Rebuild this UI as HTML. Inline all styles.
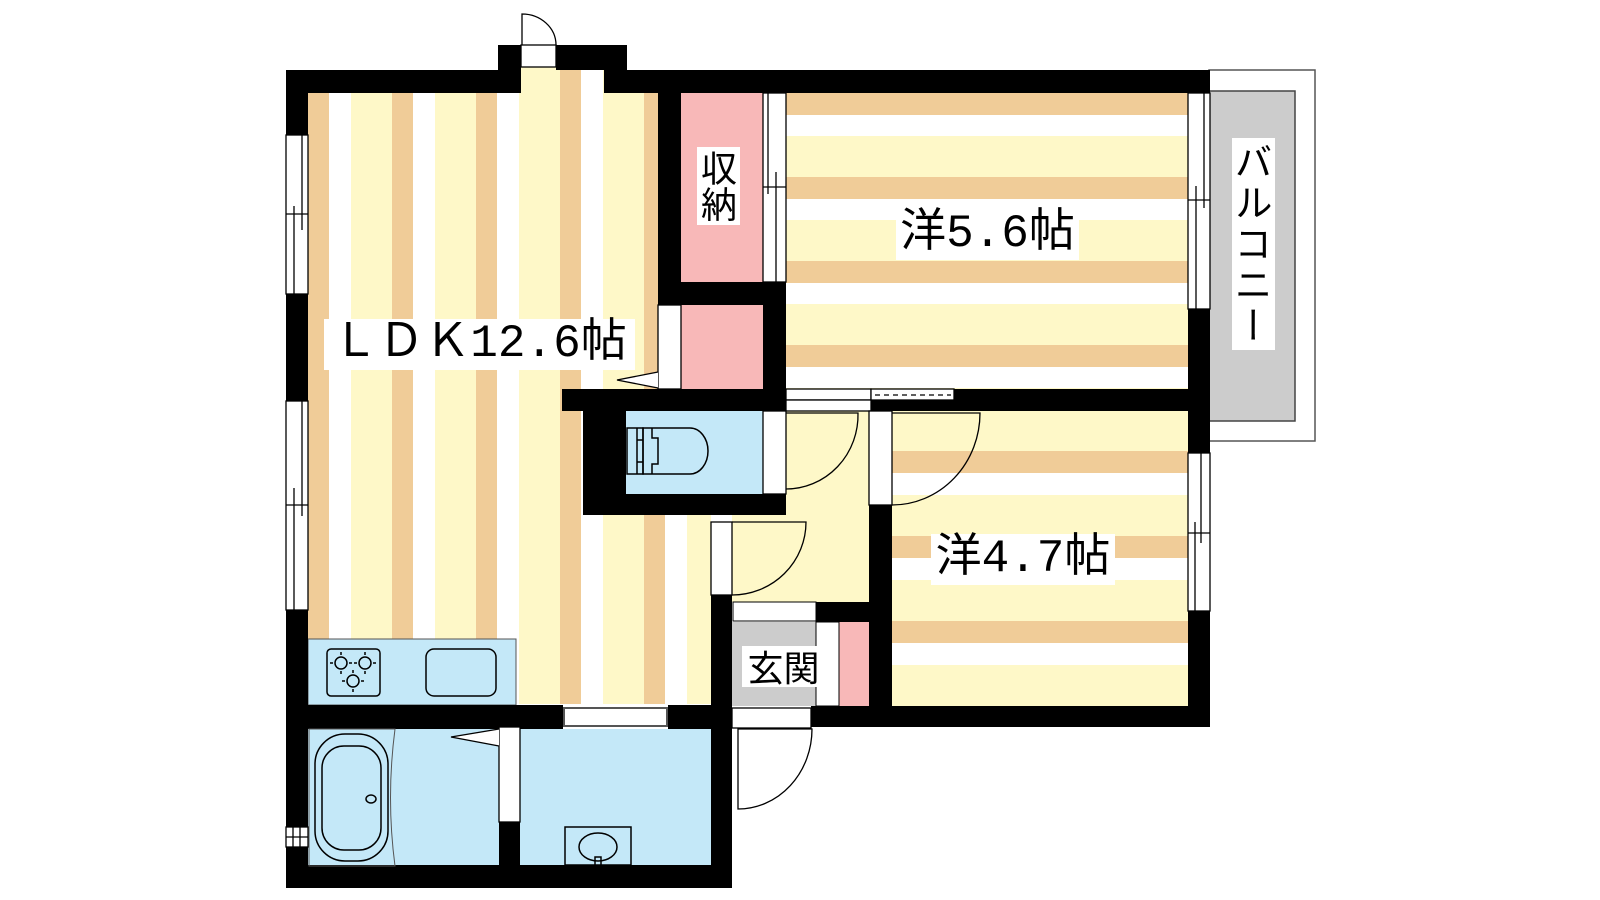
<!DOCTYPE html>
<html><head><meta charset="utf-8"><style>
html,body{margin:0;padding:0;background:#fff;}
#w{position:relative;width:1600px;height:900px;overflow:hidden;}
.lb{position:absolute;background:#fff;color:#000;font-family:"Liberation Mono","Noto Sans CJK JP",monospace;line-height:1;white-space:nowrap;text-align:center;}
.v{writing-mode:vertical-rl;font-family:"Noto Sans CJK JP",sans-serif;}
</style></head><body><div id="w">
<svg width="1600" height="900" viewBox="0 0 1600 900" xmlns="http://www.w3.org/2000/svg">
<defs>
<pattern id="pv" patternUnits="userSpaceOnUse" x="308" y="0" width="84" height="10">
<rect x="0" y="0" width="21" height="10" fill="#F0CC98"/><rect x="21" y="0" width="22" height="10" fill="#fff"/><rect x="43" y="0" width="41" height="10" fill="#FEF8C8"/></pattern>
<pattern id="ph1" patternUnits="userSpaceOnUse" x="0" y="93" width="10" height="84">
<rect x="0" y="0" width="10" height="22" fill="#F0CC98"/><rect x="0" y="22" width="10" height="21" fill="#fff"/><rect x="0" y="43" width="10" height="41" fill="#FEF8C8"/></pattern>
<pattern id="ph2" patternUnits="userSpaceOnUse" x="0" y="451" width="10" height="85">
<rect x="0" y="0" width="10" height="22" fill="#F0CC98"/><rect x="0" y="22" width="10" height="22" fill="#fff"/><rect x="0" y="44" width="10" height="41" fill="#FEF8C8"/></pattern>
</defs>
<!-- balcony -->
<rect x="1209" y="70" width="106" height="371" fill="#fff" stroke="#555" stroke-width="1.5"/>
<rect x="1209" y="91" width="86" height="330" fill="#CCCCCC" stroke="#444" stroke-width="1.5"/>
<!-- floors -->
<rect x="308" y="93" width="350" height="611" fill="url(#pv)"/>
<rect x="521" y="67" width="83" height="30" fill="url(#pv)"/>
<rect x="583" y="515" width="128" height="189" fill="url(#pv)"/>
<rect x="681" y="93" width="82" height="189" fill="#F8B8B8"/>
<rect x="681" y="305" width="82" height="84" fill="#F8B8B8"/>
<rect x="786" y="93" width="402" height="296" fill="url(#ph1)"/>
<rect x="892" y="411" width="296" height="295" fill="url(#ph2)"/>
<rect x="892" y="411" width="296" height="40" fill="#FEF8C8"/>
<rect x="786" y="411" width="83" height="191" fill="#FEF8C8"/>
<rect x="732" y="494" width="137" height="108" fill="#FEF8C8"/>
<rect x="626" y="411" width="137" height="83" fill="#C4E8F8"/>
<rect x="308" y="727" width="403" height="138" fill="#C4E8F8"/>
<rect x="732" y="622" width="84" height="84" fill="#CCCCCC"/>
<rect x="839" y="622" width="30" height="84" fill="#F8B8B8"/>
<rect x="816" y="622" width="23" height="84" fill="#fff" stroke="#000" stroke-width="1"/>
<rect x="733" y="602" width="83" height="19" fill="#fff" stroke="#000" stroke-width="1"/>
<!-- kitchen -->
<rect x="308" y="639" width="208" height="66" fill="#C4E8F8" stroke="#555" stroke-width="1"/>
<rect x="327" y="649" width="53" height="47" rx="4" fill="none" stroke="#000" stroke-width="1.5"/>
<g fill="none" stroke="#000" stroke-width="1.5"><circle cx="341" cy="663" r="6"/><circle cx="365" cy="663" r="6"/><circle cx="353" cy="681" r="6"/>
<path d="M341 655v-3M341 671v3M333 663h-3M349 663h3M365 655v-3M365 671v3M357 663h-3M373 663h3M353 673v-3M353 689v3M345 681h-3M361 681h3"/></g>
<rect x="426" y="649" width="70" height="47" rx="8" fill="none" stroke="#000" stroke-width="1.5"/>
<!-- walls -->
<g fill="#000">
<rect x="286" y="70" width="235" height="23"/>
<rect x="498" y="45" width="23" height="48"/>
<rect x="556" y="45" width="71" height="25"/>
<rect x="604" y="70" width="606" height="23"/>
<rect x="286" y="70" width="22" height="818"/>
<rect x="658" y="93" width="23" height="212"/>
<rect x="658" y="282" width="128" height="23"/>
<rect x="763" y="282" width="23" height="107"/>
<rect x="562" y="389" width="224" height="22"/>
<rect x="954" y="389" width="256" height="22"/>
<rect x="871" y="400" width="83" height="11"/>
<rect x="583" y="411" width="43" height="104"/>
<rect x="583" y="494" width="203" height="21"/>
<rect x="869" y="505" width="23" height="222"/>
<rect x="711" y="595" width="21" height="293"/>
<rect x="816" y="602" width="53" height="20"/>
<rect x="811" y="706" width="399" height="21"/>
<rect x="1188" y="70" width="22" height="657"/>
<rect x="286" y="705" width="446" height="24"/>
<rect x="286" y="865" width="446" height="23"/>
<rect x="499" y="822" width="21" height="43"/>
</g>
<!-- windows -->
<g fill="#fff" stroke="#000" stroke-width="1.3">
<rect x="286" y="135" width="22" height="159"/><path d="M302 135v95M294 206v88M286 214h22" fill="none"/>
<rect x="286" y="401" width="22" height="209"/><path d="M302 401v115M294 488v122M286 505h22" fill="none"/>
<rect x="763" y="93" width="23" height="189"/><path d="M768 93v101M776 172v110M763 187h23" fill="none"/>
<rect x="1188" y="93" width="22" height="216"/><path d="M1204 93v115M1196 186v123M1188 200h22" fill="none"/>
<rect x="1188" y="453" width="22" height="158"/><path d="M1201 453v90M1195 522v89M1188 533h22" fill="none"/>
<rect x="286" y="827" width="22" height="20"/><path d="M286 837h22M293 827v20M300 827v20" fill="none"/>
<rect x="563" y="705" width="105" height="24" stroke="none"/><rect x="564" y="708" width="103" height="18" stroke="#555" stroke-width="2"/>
<rect x="786" y="389" width="85" height="11"/><rect x="786" y="400" width="85" height="11"/>
<rect x="871" y="389" width="83" height="11"/><path d="M875 395h76" stroke-dasharray="5 4" fill="none"/>
<!-- doors -->
<rect x="521" y="45" width="35" height="22"/><path d="M522 45V14A34 31 0 0 1 556 45" fill="none"/>
<rect x="658" y="305" width="23" height="84"/><path d="M658 372L617 380L658 388" />
<rect x="763" y="411" width="23" height="83"/><path d="M786 413H858A72 74 0 0 1 786 489" fill="none"/>
<rect x="869" y="411" width="23" height="94"/><path d="M892 413H980A88 92 0 0 1 892 505" fill="none"/>
<rect x="711" y="522" width="21" height="73"/><path d="M732 522H806A74 73 0 0 1 732 595" fill="none"/>
<rect x="732" y="708" width="79" height="20"/><path d="M738 729H812A74 80 0 0 1 738 809Z" fill="none"/>
<rect x="499" y="727" width="21" height="95"/><path d="M499 729L451 737L499 746"/>
</g>
<!-- toilet -->
<g fill="none" stroke="#000" stroke-width="1.5">
<rect x="627" y="428" width="16" height="46"/><path d="M637 428v46M637 440h6M637 462h6"/>
<path d="M643 428H690A18 23 0 0 1 690 474H643Z"/><path d="M652 428v10h6v26h-6v10"/>
</g>
<!-- tub -->
<g fill="none" stroke="#000" stroke-width="1.5">
<path d="M309 729H395Q386 798 395 866H309Z" stroke="#555" stroke-width="1"/>
<rect x="315" y="734" width="73" height="127" rx="30"/>
<rect x="322" y="746" width="59" height="104" rx="22"/>
<ellipse cx="371" cy="799" rx="5" ry="4"/>
</g>
<!-- basin -->
<g fill="none" stroke="#000" stroke-width="1.5">
<rect x="565" y="827" width="66" height="38"/>
<ellipse cx="598" cy="847" rx="19" ry="14"/><path d="M595 865v-8h6v8"/>
</g>
</svg>
<div class="lb" style="left:324px;top:319px;width:311px;height:51px;font-size:46px;line-height:51px;">ＬＤＫ12.6帖</div>
<div class="lb" style="left:896px;top:209px;width:183px;height:51px;font-size:46px;line-height:51px;">洋5.6帖</div>
<div class="lb" style="left:931px;top:534px;width:184px;height:51px;font-size:46px;line-height:51px;">洋4.7帖</div>
<div class="lb v" style="left:697px;top:147px;width:43px;height:78px;font-size:36px;line-height:43px;">収納</div>
<div class="lb" style="left:742px;top:646px;width:83px;height:41px;font-size:36px;line-height:41px;font-family:'Noto Sans CJK JP',sans-serif;">玄関</div>
<div class="lb v" style="left:1232px;top:138px;width:43px;height:212px;font-size:38px;line-height:43px;letter-spacing:3px;">バルコニー</div>
</div></body></html>
